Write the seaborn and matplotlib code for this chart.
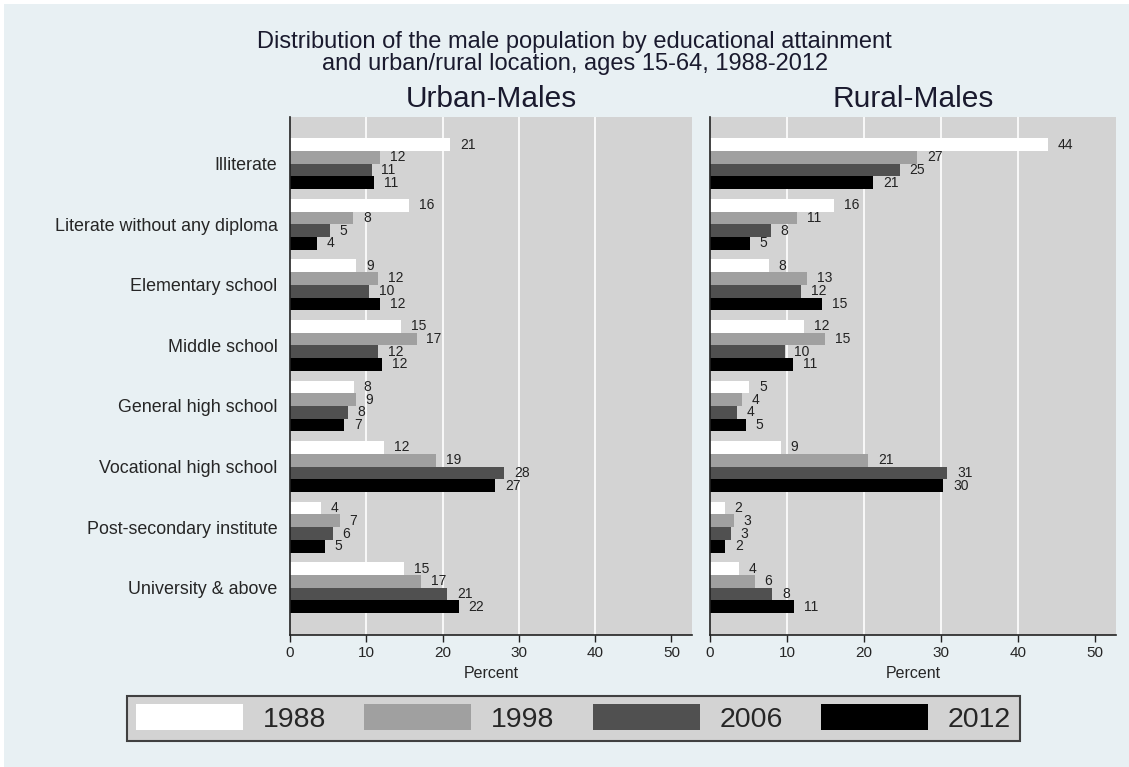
import matplotlib
matplotlib.use("Agg")
import pandas as pd
import matplotlib.pyplot as plt
import seaborn as sns
from matplotlib.patches import Patch, Rectangle

categories = ["Illiterate", "Literate without any diploma", "Elementary school",
              "Middle school", "General high school", "Vocational high school",
              "Post-secondary institute", "University & above"]
years = ["1988", "1998", "2006", "2012"]

# percent per category, one list per survey year
urban_1988 = [21.0, 15.6, 8.7, 14.6, 8.4, 12.3, 4.0, 15.0]
urban_1998 = [11.8, 8.3, 11.6, 16.6, 8.6, 19.2, 6.55, 17.2]
urban_2006 = [10.7, 5.2, 10.4, 11.55, 7.55, 28.1, 5.6, 20.6]
urban_2012 = [11.0, 3.55, 11.8, 12.1, 7.1, 26.9, 4.6, 22.1]

rural_1988 = [43.9, 16.1, 7.6, 12.2, 5.1, 9.2, 1.9, 3.7]
rural_1998 = [26.9, 11.3, 12.6, 14.9, 4.2, 20.55, 3.1, 5.8]
rural_2006 = [24.6, 7.9, 11.8, 9.7, 3.55, 30.8, 2.7, 8.1]
rural_2012 = [21.2, 5.2, 14.55, 10.8, 4.7, 30.3, 2.0, 10.9]

panel_titles = ["Urban-Males", "Rural-Males"]
colors = {"1988": "#ffffff", "1998": "#a0a0a0", "2006": "#505050", "2012": "#000000"}

rows = []
series = {
    "Urban-Males": [urban_1988, urban_1998, urban_2006, urban_2012],
    "Rural-Males": [rural_1988, rural_1998, rural_2006, rural_2012],
}
for area, lists in series.items():
    for year, vals in zip(years, lists):
        for cat, v in zip(categories, vals):
            rows.append({"area": area, "category": cat, "year": year, "value": v})
df = pd.DataFrame(rows)

sns.set_style("white")
plt.rcParams["font.family"] = ["Liberation Sans", "DejaVu Sans"]

fig = plt.figure(figsize=(11.29, 7.67), dpi=100)
fig.patch.set_facecolor("white")
fig.patches.append(Rectangle((4 / 1129, 0), 1, 1 - 4 / 767, transform=fig.transFigure,
                             facecolor="#e8f0f3", edgecolor="none", zorder=-10))

bg = "#d3d3d3"
axes = [fig.add_axes([290 / 1129, 1 - 635 / 767, 402 / 1129, 518 / 767]),
        fig.add_axes([710 / 1129, 1 - 635 / 767, 406 / 1129, 518 / 767])]

for i, (ax, area) in enumerate(zip(axes, panel_titles)):
    sub = df[df["area"] == area]
    sns.barplot(data=sub, y="category", x="value", hue="year", order=categories,
                hue_order=years, palette=colors, orient="h", width=0.84,
                saturation=1, legend=False, ax=ax, linewidth=0)
    ax.set_facecolor(bg)
    for gx in [10, 20, 30, 40]:
        ax.axvline(gx, color="white", lw=1.2, zorder=0)
    ax.set_axisbelow(True)
    for c in ax.containers:
        ax.bar_label(c, fmt="%.0f", padding=7, fontsize=10, color="#222222")
    ax.set_xlim(0, 52.7)
    ax.set_ylim(7.78, -0.77)
    ax.set_xticks([0, 10, 20, 30, 40, 50])
    ax.tick_params(axis="x", length=5, width=1, color="#222222", labelsize=11,
                   pad=3, bottom=True)
    ax.tick_params(axis="y", length=0, pad=9, labelsize=12.9)
    ax.set_xlabel("Percent", fontsize=11.5, labelpad=4)
    ax.set_ylabel("")
    ax.set_title(area, fontsize=21.5, pad=7, color="#1a1a2e")
    for s in ["top", "right"]:
        ax.spines[s].set_visible(False)
    for s in ["left", "bottom"]:
        ax.spines[s].set_color("#222222")
        ax.spines[s].set_linewidth(1.2)
    if i == 1:
        ax.set_yticklabels([])

fig.text(0.509, 1 - 53 / 767,
         "Distribution of the male population by educational attainment\n"
         "and urban/rural location, ages 15-64, 1988-2012",
         ha="center", va="center", fontsize=17, linespacing=0.95, color="#1a1a2e")

handles = [Patch(facecolor=colors[y], edgecolor="none", label=y) for y in years]
leg = fig.legend(handles=handles, loc="center", bbox_to_anchor=(573.5 / 1129, 1 - 718.5 / 767),
                 ncol=4, fontsize=20.5, handlelength=3.75, handleheight=1.0,
                 handletextpad=0.7, columnspacing=1.35, borderpad=0.3,
                 fancybox=False, framealpha=1)
leg.get_frame().set_facecolor(bg)
leg.get_frame().set_edgecolor("#404040")
leg.get_frame().set_linewidth(1.5)

fig.savefig("out.png", dpi=100, facecolor=fig.get_facecolor())
